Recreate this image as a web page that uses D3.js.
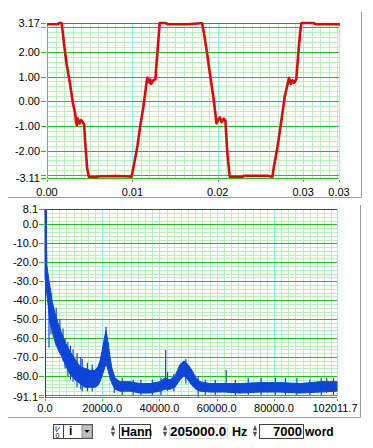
<!DOCTYPE html>
<html>
<head>
<meta charset="utf-8">
<script src="https://cdn.jsdelivr.net/npm/d3@7/dist/d3.min.js"></script>
<style>
  html, body { margin: 0; padding: 0; background: #fff; }
  svg { display: block; font-family: "Liberation Sans", Arial, sans-serif; }
</style>
</head>
<body>
<svg id="chart" width="373" height="448"></svg>
<script>
// ---- waveform (top panel), time in seconds ----
const waveTime = [
  0, 0.0013, 0.0014, 0.0017, 0.00176, 0.0020, 0.0023, 0.0027, 0.00305, 0.0033,
  0.0034, 0.0035, 0.0036, 0.0038, 0.0040, 0.0042, 0.00435, 0.0045, 0.0047, 0.0049,
  0.0056, 0.0062, 0.0080, 0.0092, 0.0099, 0.0100, 0.01025, 0.0106, 0.0109, 0.0113,
  0.0116, 0.01175, 0.0120, 0.0121, 0.0122, 0.01245, 0.0127, 0.0128, 0.01305, 0.0132,
  0.01385, 0.0142, 0.0165, 0.0180, 0.01817, 0.01837, 0.0187, 0.01915, 0.01955, 0.01985,
  0.02005, 0.02025, 0.02045, 0.0207, 0.0209, 0.0211, 0.0214, 0.02285, 0.02305, 0.0258,
  0.0264, 0.0266, 0.0270, 0.0274, 0.02785, 0.02825, 0.02835, 0.02855, 0.02875, 0.02895,
  0.0292, 0.0294, 0.02965, 0.0298, 0.0312, 0.0315, 0.0343
];
const waveValue = [
  3.12, 3.13, 3.17, 3.17, 3.05, 2.3, 1.5, 0.7, -0.1, -0.5,
  -0.85, -0.97, -0.7, -0.9, -0.76, -0.85, -0.95, -1.8, -2.7, -3.06,
  -3.08, -3.04, -3.03, -3.04, -3.06, -2.9, -2.45, -1.8, -1.05, -0.2,
  0.6, 0.95, 0.75, 0.88, 0.7, 0.85, 0.9, 1.4, 2.5, 3.17,
  3.17, 3.12, 3.12, 3.16, 3.16, 2.8, 2.05, 0.95, 0.0, -0.9,
  -0.75, -0.65, -0.85, -0.7, -0.8, -2.0, -3.06, -3.06, -3.02, -3.02,
  -3.06, -2.6, -1.85, -0.9, 0.2, 0.8, 0.95, 0.7, 0.85, 0.75,
  0.9, 1.8, 2.8, 3.17, 3.17, 3.12, 3.12
];
const waveYTicks = [3.17, 2, 1, 0, -1, -2, -3.11];
const waveYLabels = ["3.17", "2.00", "1.00", "0.00", "-1.00", "-2.00", "-3.11"];
const waveXTicks = [0, 0.01, 0.02, 0.03, 0.0342];
const waveXLabels = ["0.00", "0.01", "0.02", "0.03", "0.03"];

// ---- spectrum (bottom panel), Hz / dB: band envelope ----
const specFreq = [
  0, 350, 700, 1050, 1400, 1750, 2450, 3500, 4540, 5940,
  7340, 8730, 10480, 12230, 13970, 15720, 17470, 18510, 19210, 19910,
  20610, 21310, 22010, 22710, 23400, 24450, 26200, 29690, 33190, 36680,
  40170, 41920, 43660, 45410, 47160, 48550, 49950, 51350, 52750, 54140,
  57640, 62880, 68120, 75110, 82100, 89080, 96070, 102011.7
];
const specHigh = [
  8.1, -2, -22, -26, -30, -33, -40, -47, -52, -58,
  -63, -67, -71, -75, -76, -77, -77, -75, -72, -67,
  -61, -56, -62, -70, -76, -81, -83, -83, -84, -84,
  -83, -81, -82, -80, -74, -72, -74, -77, -81, -83,
  -84, -84, -84, -83.5, -83.5, -84, -83, -83
];
const specLow = [
  -28, -32, -38, -42, -48, -52, -56, -62, -66, -70,
  -75, -79, -82, -84, -86, -86, -86, -85, -83, -80,
  -77, -73, -77, -81, -84, -87, -88, -88, -89, -89,
  -88, -87, -87, -86, -82, -80, -82, -85, -87, -88,
  -88.5, -88.5, -89, -88.5, -88.5, -89, -88.5, -88
];
// individual noise spikes
const spikeFreq = [1400, 2100, 3900, 5200, 6300, 7000, 8000, 8900, 9800, 11200,
  12500, 13000, 14800, 16500, 21300, 24200, 27000, 30800, 33500, 37500,
  40500, 42150, 42800, 45000, 49200, 53500, 56000, 59500, 63300, 66500,
  71000, 75500, 80500, 84000, 88000, 92500, 96500, 98400, 100800];
const spikeTop = [-30, -36, -44, -50, -55, -60, -62, -64, -66, -68,
  -70, -71, -73, -74, -54, -80, -81, -82, -82, -82,
  -81, -66.3, -78, -79, -71, -80, -82, -82, -76.8, -82,
  -81, -81, -81, -81, -81, -82, -81, -80.9, -81];
const spikeBottom = [-65, -58, -64, -68, -72, -76, -80, -82, -83, -86,
  -87, -88, -88, -88, -75, -89, -90, -90, -90, -90,
  -90, -86, -88, -88, -84, -91, -90, -90, -88, -90,
  -90, -90, -90, -90, -90, -90, -90, -89, -90];
const specYTicks = [8.1, 0, -10, -20, -30, -40, -50, -60, -70, -80, -91.1];
const specYLabels = ["8.1", "0.0", "-10.0", "-20.0", "-30.0", "-40.0", "-50.0", "-60.0", "-70.0", "-80.0", "-91.1"];
const specXTicks = [0, 20000, 40000, 60000, 80000, 102011.7];
const specXLabels = ["0.0", "20000.0", "40000.0", "60000.0", "80000.0", "102011.7"];

const svg = d3.select('#chart');
svg.append('rect').attr('width', 373).attr('height', 448).attr('fill', '#fff');

const GREEN = '#14c814';
const MINOR = '#b8f2b8';
const CYAN = '#8ef4f4';

// grid + axes for one panel; returns the scales
function drawPanel(box, xDomain, yDomain, opts) {
  const x = d3.scaleLinear().domain(xDomain).range([box.left, box.right]);
  const y = d3.scaleLinear().domain(yDomain).range([box.bottom, box.top]);
  const g = svg.append('g');

  const lo = yDomain[0], hi = yDomain[1];
  const minorY = d3.range(Math.ceil(lo / opts.yMinor) * opts.yMinor, hi, opts.yMinor);
  g.selectAll('.vmin').data(d3.range(opts.xMinor, xDomain[1], opts.xMinor)).join('line')
    .attr('x1', d => Math.round(x(d)) + 0.5).attr('x2', d => Math.round(x(d)) + 0.5).attr('y1', box.top).attr('y2', box.bottom)
    .attr('stroke', MINOR).attr('stroke-width', 1);
  g.selectAll('.hmin').data(minorY).join('line')
    .attr('x1', box.left).attr('x2', box.right).attr('y1', d => Math.round(y(d)) + 0.5).attr('y2', d => Math.round(y(d)) + 0.5)
    .attr('stroke', MINOR).attr('stroke-width', 1);
  g.selectAll('.vmaj').data(d3.range(opts.xMajor, xDomain[1], opts.xMajor).concat([xDomain[1]])).join('line')
    .attr('x1', d => Math.round(x(d)) + 0.5).attr('x2', d => Math.round(x(d)) + 0.5).attr('y1', box.top).attr('y2', box.bottom)
    .attr('stroke', CYAN).attr('stroke-width', 1);
  const majorY = d3.range(Math.ceil(lo / opts.yMajor) * opts.yMajor, hi, opts.yMajor).concat([lo]);
  g.selectAll('.hmaj').data(majorY).join('line')
    .attr('x1', box.left).attr('x2', box.right).attr('y1', d => Math.round(y(d)) + 0.5).attr('y2', d => Math.round(y(d)) + 0.5)
    .attr('stroke', GREEN).attr('stroke-width', 1);
  // frame
  g.append('line').attr('x1', box.left).attr('x2', box.right).attr('y1', box.top + 0.5).attr('y2', box.top + 0.5)
    .attr('stroke', opts.topColor).attr('stroke-width', 1);
  g.append('line').attr('x1', box.left + 0.5).attr('x2', box.left + 0.5).attr('y1', box.top).attr('y2', box.bottom + 1)
    .attr('stroke', opts.leftColor).attr('stroke-width', 1);

  // y ticks (majors + ends) and labels
  g.selectAll('.yt').data(majorY.concat([hi])).join('line')
    .attr('x1', box.left - 6).attr('x2', box.left - 1)
    .attr('y1', d => Math.round(y(d)) + 0.5).attr('y2', d => Math.round(y(d)) + 0.5)
    .attr('stroke', GREEN).attr('stroke-width', 1);
  g.selectAll('.yl').data(opts.yTicks).join('text')
    .attr('x', box.left - 7).attr('y', d => y(d)).attr('dy', '0.36em')
    .attr('text-anchor', 'end').attr('font-size', 11).attr('fill', '#000')
    .text((d, i) => opts.yLabels[i]);
  // x ticks and labels
  g.selectAll('.xt').data(opts.xTicks).join('line')
    .attr('x1', d => Math.round(x(d)) + 0.5).attr('x2', d => Math.round(x(d)) + 0.5)
    .attr('y1', box.bottom + 2).attr('y2', box.bottom + 4)
    .attr('stroke', GREEN).attr('stroke-width', 1);
  g.selectAll('.xl').data(opts.xTicks).join('text')
    .attr('x', (d, i) => x(d) - (i === opts.xTicks.length - 1 ? opts.lastShift : 0)).attr('y', opts.labelY).attr('dy', '0.36em')
    .attr('text-anchor', 'middle').attr('font-size', 11).attr('fill', '#000')
    .text((d, i) => opts.xLabels[i]);
  return { x, y };
}

// panel frames (sunken look)
function frame(right, top, bottom, left) {
  svg.append('path').attr('d', `M${left},${bottom + 0.5}H${right + 0.5}V${top}`)
    .attr('fill', 'none').attr('stroke', '#9a9a9a').attr('stroke-width', 1);
}
frame(361, 12, 197, 8);
frame(360, 205, 417, 8);

// ---- top panel ----
const topPanel = drawPanel({ left: 47, right: 339, top: 23, bottom: 178 }, [0, 0.0342], [-3.11, 3.17], {
  xMinor: 0.001, xMajor: 0.01, yMinor: 0.2, yMajor: 1, lastShift: 0,
  yTicks: waveYTicks, yLabels: waveYLabels, xTicks: waveXTicks, xLabels: waveXLabels,
  labelY: 192, topColor: '#4c7c6c', leftColor: '#7aa88a'
});
const wave = d3.range(waveTime.length).map(i => [waveTime[i], waveValue[i]]);
svg.append('path').datum(wave)
  .attr('d', d3.line().x(d => topPanel.x(d[0])).y(d => topPanel.y(d[1])))
  .attr('fill', 'none').attr('stroke', '#dc0808').attr('stroke-width', 2.6)
  .attr('stroke-linejoin', 'round');

// ---- bottom panel ----
const botPanel = drawPanel({ left: 45, right: 337, top: 209, bottom: 397 }, [0, 102011.7], [-91.1, 8.1], {
  xMinor: 2500, xMajor: 20000, yMinor: 2, yMajor: 10, lastShift: 2,
  yTicks: specYTicks, yLabels: specYLabels, xTicks: specXTicks, xLabels: specXLabels,
  labelY: 408, topColor: '#1a5a6a', leftColor: '#1040c0'
});
const BLUE = '#0c46d6';
const band = d3.range(specFreq.length).map(i => ({ f: specFreq[i], hi: specHigh[i], lo: specLow[i] }));
svg.append('path').datum(band)
  .attr('d', d3.area().x(d => botPanel.x(d.f)).y0(d => botPanel.y(d.lo)).y1(d => botPanel.y(d.hi)))
  .attr('fill', BLUE).attr('stroke', BLUE).attr('stroke-width', 1);
svg.append('g').selectAll('line').data(spikeFreq).join('line')
  .attr('x1', d => botPanel.x(d)).attr('x2', d => botPanel.x(d))
  .attr('y1', (d, i) => botPanel.y(spikeTop[i])).attr('y2', (d, i) => botPanel.y(spikeBottom[i]))
  .attr('stroke', BLUE).attr('stroke-width', 1.2);
// DC line at left edge
svg.append('line').attr('x1', botPanel.x(0) + 1).attr('x2', botPanel.x(0) + 1)
  .attr('y1', botPanel.y(8.1)).attr('y2', botPanel.y(-28))
  .attr('stroke', BLUE).attr('stroke-width', 2);

// ---- toolbar ----
const tb = svg.append('g').attr('font-family', '"Liberation Sans", Arial, sans-serif').attr('font-weight', 'bold');
function sunkenBox(x, y, w, h) {
  tb.append('rect').attr('x', x + 0.5).attr('y', y + 0.5).attr('width', w).attr('height', h)
    .attr('fill', '#fff').attr('stroke', '#404040');
}
function spinner(x, y) {
  tb.append('path').attr('d', `M${x},${y + 6}L${x + 2},${y + 1}L${x + 4},${y + 6}Z`).attr('fill', '#505050');
  tb.append('path').attr('d', `M${x},${y + 8}L${x + 2},${y + 13}L${x + 4},${y + 8}Z`).attr('fill', '#505050');
  tb.append('line').attr('x1', x).attr('x2', x + 4).attr('y1', y + 7).attr('y2', y + 7).attr('stroke', '#aaa');
}
// I/O selector
sunkenBox(53, 424, 10, 14);
tb.append('text').attr('x', 55).attr('y', 430.5).attr('font-size', 7).attr('font-weight', 'normal').text('I');
tb.append('text').attr('x', 55.5).attr('y', 437.5).attr('font-size', 7).attr('font-weight', 'normal').text('0');
tb.append('line').attr('x1', 56).attr('x2', 60).attr('y1', 432).attr('y2', 427).attr('stroke', '#000').attr('stroke-width', 0.7);
sunkenBox(63, 424, 29, 14);
tb.append('text').attr('x', 69).attr('y', 435).attr('font-size', 12).text('i');
tb.append('rect').attr('x', 82).attr('y', 425).attr('width', 10).attr('height', 13).attr('fill', '#c0c0c0')
  .attr('stroke', '#808080').attr('stroke-width', 0.8);
tb.append('path').attr('d', 'M84.5,430L89.5,430L87,433Z').attr('fill', '#000');
// window
spinner(111, 424);
sunkenBox(119, 424, 31, 14);
tb.append('text').attr('x', 121).attr('y', 436).attr('font-size', 12.5).text('Hann');
// sample rate
spinner(163, 424);
tb.append('rect').attr('x', 169.5).attr('y', 424.5).attr('width', 58).attr('height', 14).attr('fill', '#fff').attr('stroke', '#e0e0e0');
tb.append('text').attr('x', 170).attr('y', 436).attr('font-size', 13.5).text('205000.0');
tb.append('text').attr('x', 232).attr('y', 436).attr('font-size', 12.5).text('Hz');
// length
spinner(253, 424);
sunkenBox(259, 424, 44, 14);
tb.append('text').attr('x', 302).attr('y', 436).attr('text-anchor', 'end').attr('font-size', 13).text('7000');
tb.append('text').attr('x', 305).attr('y', 436).attr('font-size', 12).text('word');
</script>
</body>
</html>
